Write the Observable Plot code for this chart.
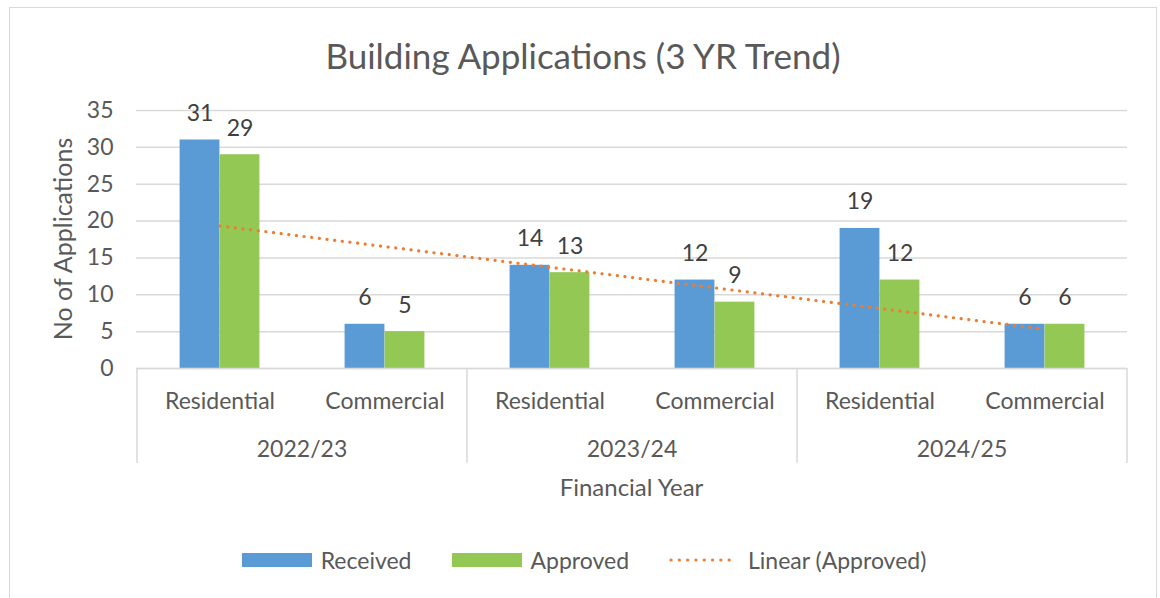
<!DOCTYPE html>
<html><head><meta charset="utf-8">
<script src="https://cdn.jsdelivr.net/npm/d3@7"></script>
<script src="https://cdn.jsdelivr.net/npm/@observablehq/plot@0.6"></script>
<style>
html,body{margin:0;padding:0;overflow:hidden;background:#fff;}
body{font-family:Lato,"Noto Sans",sans-serif;color:#595959;width:1160px;height:598px;position:relative;}
#frame{position:absolute;left:9px;top:7px;width:1148px;height:640px;border:1.5px solid #d9d9d9;box-sizing:border-box;}
#title{position:absolute;left:9px;top:35px;width:1148px;text-align:center;font-size:35px;line-height:40px;color:#595959;}
#chart{position:absolute;left:0;top:90px;}
#legend{position:absolute;left:9px;top:546px;width:1148px;display:flex;justify-content:center;align-items:center;font-size:23px;color:#595959;padding-left:2px;box-sizing:border-box;}
.item{display:flex;align-items:center;margin:0 20px;}
.sw{width:70px;height:14px;margin-right:9px;}
</style></head>
<body>
<div id="frame"></div>
<div id="title">Building Applications (3 YR Trend)</div>
<div id="chart"></div>
<div id="legend"></div>
<script>
// ---- data ----
const years = ["2022/23", "2023/24", "2024/25"];
const types = ["Residential", "Commercial"];
const received = [31, 6, 14, 12, 19, 6];
const approved = [29, 5, 13, 9, 12, 6];
const yTicks = [0, 5, 10, 15, 20, 25, 30, 35];
const seriesNames = ["Received", "Approved", "Linear (Approved)"];
const colors = {Received: "#5B9BD5", Approved: "#92C853", trend: "#ED7D31"};

const rows = [];
years.forEach((yr, i) => types.forEach((t, j) => {
  const k = i * types.length + j;
  rows.push({key: yr + "|" + t, year: yr, type: t, received: received[k], approved: approved[k], idx: k + 1});
}));
// linear trendline of Approved (least squares, as Excel's "Linear" trendline)
const mx = d3.mean(rows, d => d.idx), my = d3.mean(rows, d => d.approved);
const slope = d3.sum(rows, d => (d.idx - mx) * (d.approved - my)) / d3.sum(rows, d => (d.idx - mx) ** 2);
rows.forEach(d => d.trend = my + slope * (d.idx - mx));

const W = 1160, H = 410, mL = 136, mR = 33, mT = 20, mB = 132;
const bw = (W - mL - mR) / rows.length;
const barW = 40;
const font = "Lato, 'Noto Sans', sans-serif";

const plot = Plot.plot({
  width: W, height: H,
  marginLeft: mL, marginRight: mR, marginTop: mT, marginBottom: mB,
  style: {fontFamily: font, fontSize: "23px", color: "#595959", background: "transparent", overflow: "visible"},
  x: {domain: rows.map(d => d.key), padding: 0},
  y: {domain: [0, 35]},
  marks: [
    Plot.gridY(yTicks, {stroke: "#d9d9d9", strokeOpacity: 1, strokeWidth: 1.5}),
    Plot.axisY(yTicks, {tickSize: 0, tickPadding: 23, fontSize: 23, fill: "#595959", label: null}),
    Plot.barY(rows, {x: "key", y: "received", fill: colors.Received, insetLeft: bw / 2 - barW, insetRight: bw / 2}),
    Plot.barY(rows, {x: "key", y: "approved", fill: colors.Approved, insetLeft: bw / 2, insetRight: bw / 2 - barW}),
    Plot.ruleY([0], {stroke: "#d9d9d9", strokeWidth: 1.5}),
    Plot.axisX({tickSize: 0, tickPadding: 24, tickFormat: k => k.split("|")[1], fontSize: 23, fill: "#595959", label: null}),
    Plot.line(rows, {x: "key", y: "trend", stroke: colors.trend, strokeWidth: 3.2, strokeDasharray: "0.1 7.6", strokeLinecap: "round"}),
    Plot.text(rows, {x: "key", y: "received", text: "received", dx: -barW / 2, dy: -19, lineAnchor: "bottom", fontSize: 23, fill: "#404040"}),
    Plot.text(rows, {x: "key", y: "approved", text: "approved", dx: barW / 2, dy: -19, lineAnchor: "bottom", fontSize: 23, fill: "#404040"})
  ]
});
document.getElementById("chart").appendChild(plot);

// category group separators, year labels, axis titles (positions from Plot's scales)
const xs = plot.scale("x"), ys = plot.scale("y");
const y0 = ys.apply(0);
const svg = d3.select(plot);
const g = svg.append("g");
const edges = years.map(yr => xs.apply(yr + "|" + types[0]));
edges.push(xs.apply(rows[rows.length - 1].key) + xs.bandwidth);
g.selectAll("line.sep").data(edges).join("line")
  .attr("x1", d => d).attr("x2", d => d).attr("y1", y0).attr("y2", y0 + 95)
  .attr("stroke", "#d9d9d9").attr("stroke-width", 1.5);
g.selectAll("text.yr").data(years).join("text")
  .attr("x", yr => xs.apply(yr + "|" + types[0]) + xs.bandwidth * types.length / 2)
  .attr("y", y0 + 89).attr("text-anchor", "middle")
  .attr("font-family", font).attr("font-size", 23).attr("fill", "#595959")
  .text(d => d);
g.append("text")
  .attr("x", (xs.range[0] + xs.range[1]) / 2).attr("y", y0 + 128)
  .attr("text-anchor", "middle").attr("font-family", font).attr("font-size", 24).attr("fill", "#595959")
  .text("Financial Year");
g.append("text")
  .attr("transform", `translate(72,${(ys.apply(35) + y0) / 2}) rotate(-90)`)
  .attr("text-anchor", "middle").attr("font-family", font).attr("font-size", 25).attr("fill", "#595959")
  .text("No of Applications");

// legend
const leg = d3.select("#legend");
seriesNames.forEach(name => {
  const it = leg.append("div").attr("class", "item");
  if (name === "Linear (Approved)") {
    const s = it.append("svg").attr("width", 70).attr("height", 14).style("margin-right", "9px");
    s.append("line").attr("x1", 2).attr("x2", 68).attr("y1", 7).attr("y2", 7)
      .attr("stroke", colors.trend).attr("stroke-width", 3.2).attr("stroke-dasharray", "0.1 8.2").attr("stroke-linecap", "round");
  } else {
    it.append("div").attr("class", "sw").style("background", colors[name]);
  }
  it.append("span").text(name);
});
</script>
</body></html>
